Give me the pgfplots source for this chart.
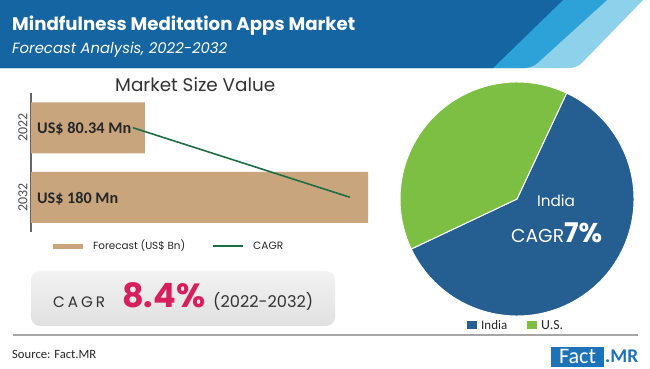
\documentclass[border=0pt]{standalone}
\usepackage{fontspec}
\usepackage{pgfplots}
\pgfplotsset{compat=1.18}
\usepackage{graphicx}
\setmainfont{Carlito}
\newfontfamily\pop{Poppins}
\newfontfamily\carl{Carlito}
\definecolor{hdark}{HTML}{1565A3}
\definecolor{hmid}{HTML}{2DA2D8}
\definecolor{hlight}{HTML}{8ED1EA}
\definecolor{bartan}{HTML}{C8A57D}
\definecolor{cagrgreen}{HTML}{1F6E43}
\definecolor{cagrpink}{HTML}{D81F5E}
\definecolor{indiablue}{HTML}{255E91}
\definecolor{usgreen}{HTML}{7CBF43}
\definecolor{logoblue}{HTML}{1D72B8}
\definecolor{txt}{HTML}{333333}
\newcommand\fw[2]{\resizebox{#1bp}{!}{#2}}
% pie data (share, %)
\def\indiaval{61}
\def\usval{39}
\def\piestart{64.9}
\begin{document}
\begin{tikzpicture}[x=1bp,y=1bp]
\path[use as bounding box, fill=white] (0,0) rectangle (650,368);
% header
\fill[hlight] (0,368) -- (643,368) [rounded corners=7] -- (577,300) [sharp corners] -- (0,300) -- cycle;
\fill[hmid] (0,368) -- (607,368) [rounded corners=7] -- (532,300) [sharp corners] -- (0,300) -- cycle;
\fill[hdark] (0,368) -- (563,368) -- (493,300) -- (0,300) -- cycle;
\node[anchor=base west, inner sep=0, text=white] at (12,338) {\fw{343}{\pop\bfseries Mindfulness Meditation Apps Market}};
\node[anchor=base west, inner sep=0, text=white] at (12,315) {\fw{215}{\pop\itshape Forecast Analysis, 2022-2032}};
% bar chart title
\node[anchor=base west, inner sep=0, text=txt] at (115,277) {\fw{160}{\pop Market Size Value}};
% bar chart
\begin{axis}[
  at={(31bp,136bp)}, anchor=south west,
  scale only axis, width=337bp, height=139bp,
  xmin=29.4, xmax=180, ymin=-0.5, ymax=1.5,
  y dir=reverse,
  hide x axis,
  axis y line*=left,
  y axis line style={draw=gray!80!black, line width=1.3bp, -},
  ytick={0,1}, yticklabels={2022,2032},
  yticklabel style={rotate=90, anchor=south, font=\carl\fontsize{14}{16}\selectfont, text=gray!60!black},
  major tick length=0,
]
\addplot[xbar, bar width=51bp, fill=bartan, draw=none] coordinates {(80.34,0) (180,1)};
\addplot[sharp plot, no marks, color=cagrgreen, line width=1.6bp] coordinates {(75.0,0) (171.9,1)};
\end{axis}
\node[anchor=base west, inner sep=0, text=black!85] at (37,235) {\fw{94}{\carl\bfseries US\$ 80.34 Mn}};
\node[anchor=base west, inner sep=0, text=black!85] at (37,165) {\fw{81}{\carl\bfseries US\$ 180 Mn}};
% legend
\fill[bartan] (53,119.5) rectangle (83,124);
\node[anchor=west, inner sep=0, text=black!85] at (93,122) {\fw{92}{\pop Forecast (US\$ Bn)}};
\draw[cagrgreen, line width=2bp] (213,122) -- (243,122);
\node[anchor=west, inner sep=0, text=black!85] at (253,122) {\fw{30}{\pop CAGR}};
% CAGR box
\shade[rounded corners=9, top color=black!5, bottom color=black!12] (31,42) rectangle (335,97);
\node[anchor=base west, inner sep=0, text=txt] at (53,61) {\fw{52}{\pop\addfontfeature{LetterSpace=20}CAGR}};
\node[anchor=base west, inner sep=0, text=cagrpink] at (122,61) {\fw{83}{\pop\bfseries 8.4\%}};
\node[anchor=base west, inner sep=0, text=txt] at (213,61) {\fw{100}{\pop (2022-2032)}};
% separator and source
\draw[color=black!35, line width=2bp] (13,33) -- (638,33);
\node[anchor=west, inner sep=0, text=black!85] at (12,14) {\fw{84}{\carl Source: Fact.MR}};
% logo
\fill[logoblue] (551,1.5) rectangle (604,21);
\node[inner sep=0, text=white] at (577.5,11.5) {\fw{37}{\carl Fact}};
\node[anchor=west, inner sep=0, text=logoblue] at (605,11.5) {\fw{33}{\carl\bfseries .MR}};
% pie
\pgfmathsetmacro{\usdelta}{3.6*\usval}
\pgfmathsetmacro{\indstart}{\piestart+\usdelta}
\pgfmathsetmacro{\inddelta}{3.6*\indiaval}
\begin{axis}[at={(517bp,169bp)}, anchor=center, x=1bp, y=1bp,
  xmin=-120, xmax=120, ymin=-120, ymax=120, hide axis, clip=false]
\fill[indiablue, draw=white, line width=1bp] (axis cs:0,0) -- (axis cs:{117*cos(\indstart)},{117*sin(\indstart)}) arc[start angle=\indstart, delta angle=\inddelta, radius=117bp] -- cycle;
\fill[usgreen, draw=white, line width=1bp] (axis cs:0,0) -- (axis cs:{117*cos(\piestart)},{117*sin(\piestart)}) arc[start angle=\piestart, delta angle=\usdelta, radius=117bp] -- cycle;
\end{axis}
\node[anchor=base, inner sep=0, text=white] at (556,162) {\fw{38}{\pop India}};
\node[anchor=base west, inner sep=0, text=white] at (511,126) {\fw{91}{\pop\fontsize{10}{12}\selectfont CAGR{\fontsize{14.5}{16}\selectfont\bfseries 7\%}}};
% pie legend
\fill[indiablue] (467,39) rectangle (477,47);
\node[anchor=west, inner sep=0, text=black!85] at (481,43) {\fw{26}{\carl India}};
\fill[usgreen] (527,39) rectangle (537,47);
\node[anchor=west, inner sep=0, text=black!85] at (541,43) {\fw{22}{\carl U.S.}};
\end{tikzpicture}
\end{document}
